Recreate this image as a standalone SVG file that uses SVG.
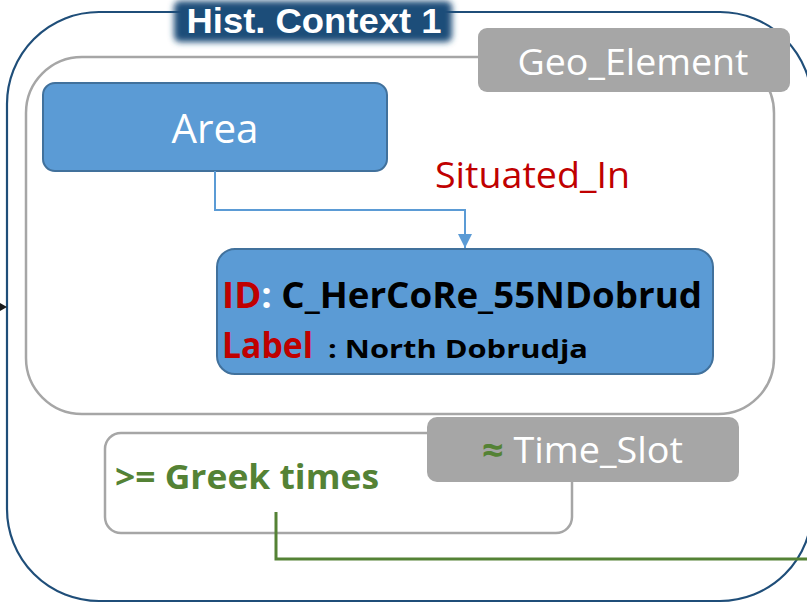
<svg xmlns="http://www.w3.org/2000/svg" width="807" height="606" viewBox="0 0 807 606">
<defs>
<style>
.t{font-family:"Open Sans","Noto Sans","Liberation Sans",sans-serif}
.b{font-weight:bold}
.node{fill:#5B9BD5;stroke:#41719C;stroke-width:2}
.frame{fill:none;stroke:#A6A6A6;stroke-width:2.5}
.tag{fill:#A6A6A6}
</style>
<filter id="glow" x="-20%" y="-50%" width="140%" height="200%"><feGaussianBlur stdDeviation="3"/></filter>
<marker id="arr" viewBox="0 0 10 10" refX="10" refY="5" markerWidth="7" markerHeight="7" orient="auto" markerUnits="strokeWidth"><path d="M0,0L10,5L0,10z" fill="#5B9BD5"/></marker>
</defs>
<rect width="807" height="606" fill="#fff"/>
<g id="hist-context">
<rect x="7" y="12" width="805" height="589" rx="92" fill="none" stroke="#1F4E79" stroke-width="2.2"/>
<path d="M0,303L7,307L0,311z" fill="#1a1a1a"/>
<rect x="174" y="1" width="278" height="41" rx="6" fill="#1F4E79" filter="url(#glow)"/>
<text x="314" y="33" font-family="'Liberation Sans',Arial,sans-serif" font-weight="bold" font-size="35" fill="#fff" text-anchor="middle" textLength="255" lengthAdjust="spacingAndGlyphs">Hist. Context 1</text>
</g>
<g id="geo-element">
<rect class="frame" x="26" y="57" width="748" height="357" rx="56"/>
<rect class="tag" x="478" y="28" width="312" height="64" rx="9"/>
<text class="t" x="633" y="75" font-size="37" fill="#fff" text-anchor="middle" textLength="231" lengthAdjust="spacingAndGlyphs">Geo_Element</text>
</g>
<g id="area">
<rect class="node" x="43" y="83" width="344" height="88" rx="12"/>
<text class="t" x="215" y="143" font-size="41" fill="#fff" text-anchor="middle" textLength="87" lengthAdjust="spacingAndGlyphs">Area</text>
</g>
<g id="north-dobrudja">
<rect class="node" x="217" y="249" width="496" height="125" rx="18"/>
<text class="t b" x="222" y="308" font-size="35" textLength="480" lengthAdjust="spacingAndGlyphs"><tspan fill="#C00000">ID</tspan><tspan fill="#fff">:</tspan><tspan fill="#000"> C_HerCoRe_55NDobrud</tspan></text>
<text class="t b" x="222" y="358" font-size="35" fill="#C00000" textLength="91" lengthAdjust="spacingAndGlyphs">Label</text>
<text class="t b" x="328" y="358" font-size="25" fill="#000" textLength="260" lengthAdjust="spacingAndGlyphs">: North Dobrudja</text>
</g>
<g id="time-slot">
<rect class="frame" x="105" y="433" width="467" height="100" rx="16"/>
<rect class="tag" x="427" y="417" width="312" height="65" rx="10"/>
<text class="t" x="482" y="463" font-size="36" textLength="201" lengthAdjust="spacingAndGlyphs"><tspan fill="#548235" font-weight="bold">≈</tspan><tspan fill="#fff"> Time_Slot</tspan></text>
<text class="t b" x="115" y="489" font-size="34" fill="#548235" textLength="264" lengthAdjust="spacingAndGlyphs">&gt;= Greek times</text>
</g>
<g id="connectors">
<path d="M215,171V210H465V248" fill="none" stroke="#5B9BD5" stroke-width="2" marker-end="url(#arr)"/>
<text class="t" x="435" y="188" font-size="37" fill="#C00000" textLength="195" lengthAdjust="spacingAndGlyphs">Situated_In</text>
<path d="M276,512V559H810" fill="none" stroke="#548235" stroke-width="3"/>
</g>
</svg>
